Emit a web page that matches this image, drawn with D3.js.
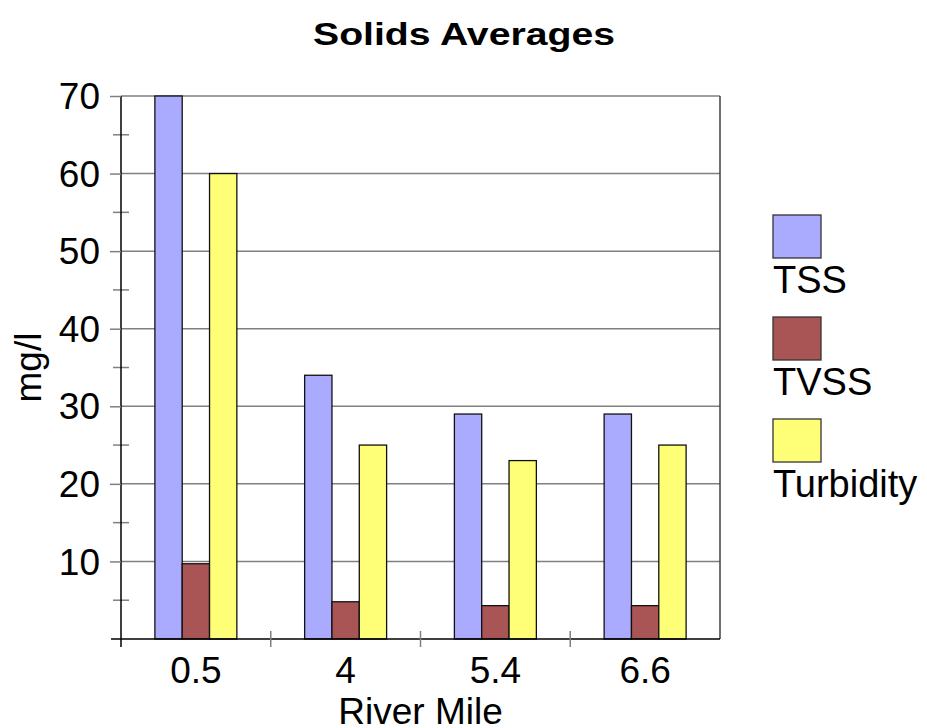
<!DOCTYPE html>
<html>
<head>
<meta charset="utf-8">
<script src="https://cdn.jsdelivr.net/npm/d3@7"></script>
<style>
  body { margin: 0; background: #fff; }
  text { font-family: "Liberation Sans", Arial, sans-serif; fill: #000; }
</style>
</head>
<body>
<svg id="chart" width="927" height="728"></svg>
<script>
var miles = ["0.5", "4", "5.4", "6.6"];
var seriesNames = ["TSS", "TVSS", "Turbidity"];
var tss = [70, 34, 29, 29];
var tvss = [9.7, 4.8, 4.3, 4.3];
var turbidity = [60, 25, 23, 25];
var yTicks = [10, 20, 30, 40, 50, 60, 70];
var colors = ["#aaaaff", "#aa5555", "#ffff77"];

var series = [tss, tvss, turbidity];
var pLeft = 121, pRight = 720, pTop = 96, pBottom = 639;
var svg = d3.select("#chart");

var x = d3.scaleBand().domain(miles).range([pLeft, pRight]).paddingInner(0).paddingOuter(0);
var xs = d3.scaleBand().domain(seriesNames).range([0, x.bandwidth()]).paddingInner(0).paddingOuter(1.24);
var y = d3.scaleLinear().domain([0, 70]).range([pBottom, pTop]);

// gridlines
svg.append("g").selectAll("line").data(yTicks).join("line")
   .attr("x1", pLeft).attr("x2", pRight)
   .attr("y1", d => y(d)).attr("y2", d => y(d))
   .attr("stroke", "#808080").attr("stroke-width", 1.5);

// right border
svg.append("line")
   .attr("x1", pRight).attr("x2", pRight).attr("y1", pTop).attr("y2", pBottom)
   .attr("stroke", "#404040").attr("stroke-width", 1.5);

// minor ticks
svg.append("g").selectAll("line").data(yTicks.map(d => d - 5)).join("line")
   .attr("x1", pLeft - 8).attr("x2", pLeft + 8)
   .attr("y1", d => y(d)).attr("y2", d => y(d))
   .attr("stroke", "#808080").attr("stroke-width", 1.5);

// bars
series.forEach(function(vals, s) {
  svg.append("g").selectAll("rect").data(vals).join("rect")
     .attr("x", (d, i) => x(miles[i]) + xs(seriesNames[s]))
     .attr("y", d => y(d))
     .attr("width", xs.bandwidth())
     .attr("height", d => y(0) - y(d))
     .attr("fill", colors[s])
     .attr("stroke", "#111").attr("stroke-width", 1.3);
});

// y axis
var yAxis = d3.axisLeft(y).tickValues(yTicks).tickSize(11).tickPadding(10);
var gy = svg.append("g").attr("transform", "translate(" + pLeft + ",0)").call(yAxis);
gy.select(".domain").attr("d", "M0," + pTop + "V" + (pBottom + 8)).attr("stroke", "#000").attr("stroke-width", 1.5);
gy.selectAll(".tick line").attr("stroke", "#808080").attr("stroke-width", 1.5);
gy.selectAll(".tick text").attr("font-size", 37).attr("font-family", "Liberation Sans, Arial, sans-serif").attr("dy", "0.34em");

// x axis
var gx = svg.append("g").attr("transform", "translate(0," + pBottom + ")")
   .call(d3.axisBottom(x).tickSize(0));
gx.select(".domain").attr("stroke", "#000").attr("stroke-width", 1.5).attr("d", "M" + (pLeft - 10) + ",0H" + pRight);
gx.selectAll(".tick text").attr("font-size", 37).attr("font-family", "Liberation Sans, Arial, sans-serif")
   .attr("y", 44).attr("dy", 0);
svg.append("g").selectAll("line").data(miles.slice(1)).join("line")
   .attr("x1", d => x(d)).attr("x2", d => x(d))
   .attr("y1", pBottom - 8).attr("y2", pBottom + 8)
   .attr("stroke", "#808080").attr("stroke-width", 1.5);

// titles
svg.append("text").attr("x", 464).attr("y", 45).attr("text-anchor", "middle")
   .attr("font-size", 32).attr("font-weight", "bold")
   .attr("textLength", 302).attr("lengthAdjust", "spacingAndGlyphs")
   .text("Solids Averages");
svg.append("text").attr("x", (pLeft + pRight) / 2).attr("y", 724).attr("text-anchor", "middle")
   .attr("font-size", 37).text("River Mile");
svg.append("text").attr("transform", "translate(41," + ((pTop + pBottom) / 2) + ") rotate(-90)")
   .attr("text-anchor", "middle").attr("font-size", 37).text("mg/l");

// legend
var leg = svg.append("g").selectAll("g").data(seriesNames).join("g")
   .attr("transform", (d, i) => "translate(773," + (215 + i * 102) + ")");
leg.append("rect").attr("width", 48).attr("height", 43)
   .attr("fill", (d, i) => colors[i]).attr("stroke", "#333").attr("stroke-width", 1.3);
leg.append("text").attr("x", 0).attr("y", 78).attr("font-size", 38).text(d => d);
</script>
</body>
</html>
